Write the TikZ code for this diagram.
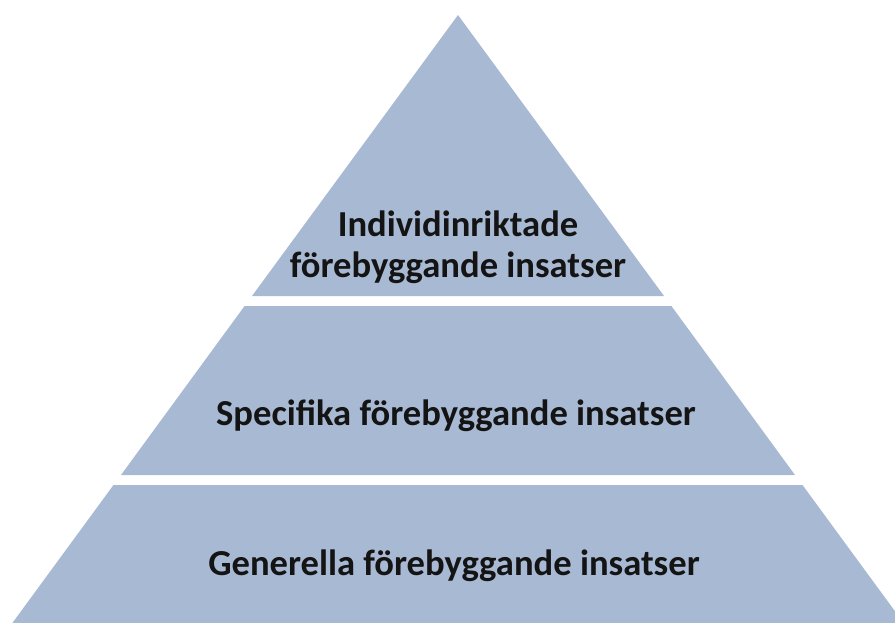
\documentclass[tikz,border=0pt]{standalone}
\usepackage{fontspec}
\setmainfont{Carlito}
\definecolor{layerblue}{HTML}{A8B9D3}
\definecolor{labeltext}{HTML}{141414}
\tikzset{
  layer/.style={fill=layerblue, draw=none},
  lbl/.style={anchor=base, inner sep=0pt, text=labeltext, font=\fontsize{36.6}{41}\selectfont\bfseries}
}
\begin{document}
\begin{tikzpicture}[x=1pt,y=-1pt]
\useasboundingbox (0,0) rectangle (895,622);
\clip (0,0) rectangle (895,622);
% top layer
\fill[layer] (458,15) -- (664,296) -- (252,296) -- cycle;
% middle layer
\fill[layer] (244.6,306) -- (671.4,306) -- (795,475) -- (121,475) -- cycle;
% bottom layer
\fill[layer] (113.5,485) -- (802.5,485) -- (930,659) -- (-14,659) -- cycle;
% labels
\node[lbl] (t1) at (458,236) {Individinriktade};
\node[lbl] (t2) at (458,277) {förebyggande insatser};
\node[lbl] (m) at (456,425) {Specifika förebyggande insatser};
\node[lbl] (b) at (454,575) {Generella förebyggande insatser};
\end{tikzpicture}
\end{document}
